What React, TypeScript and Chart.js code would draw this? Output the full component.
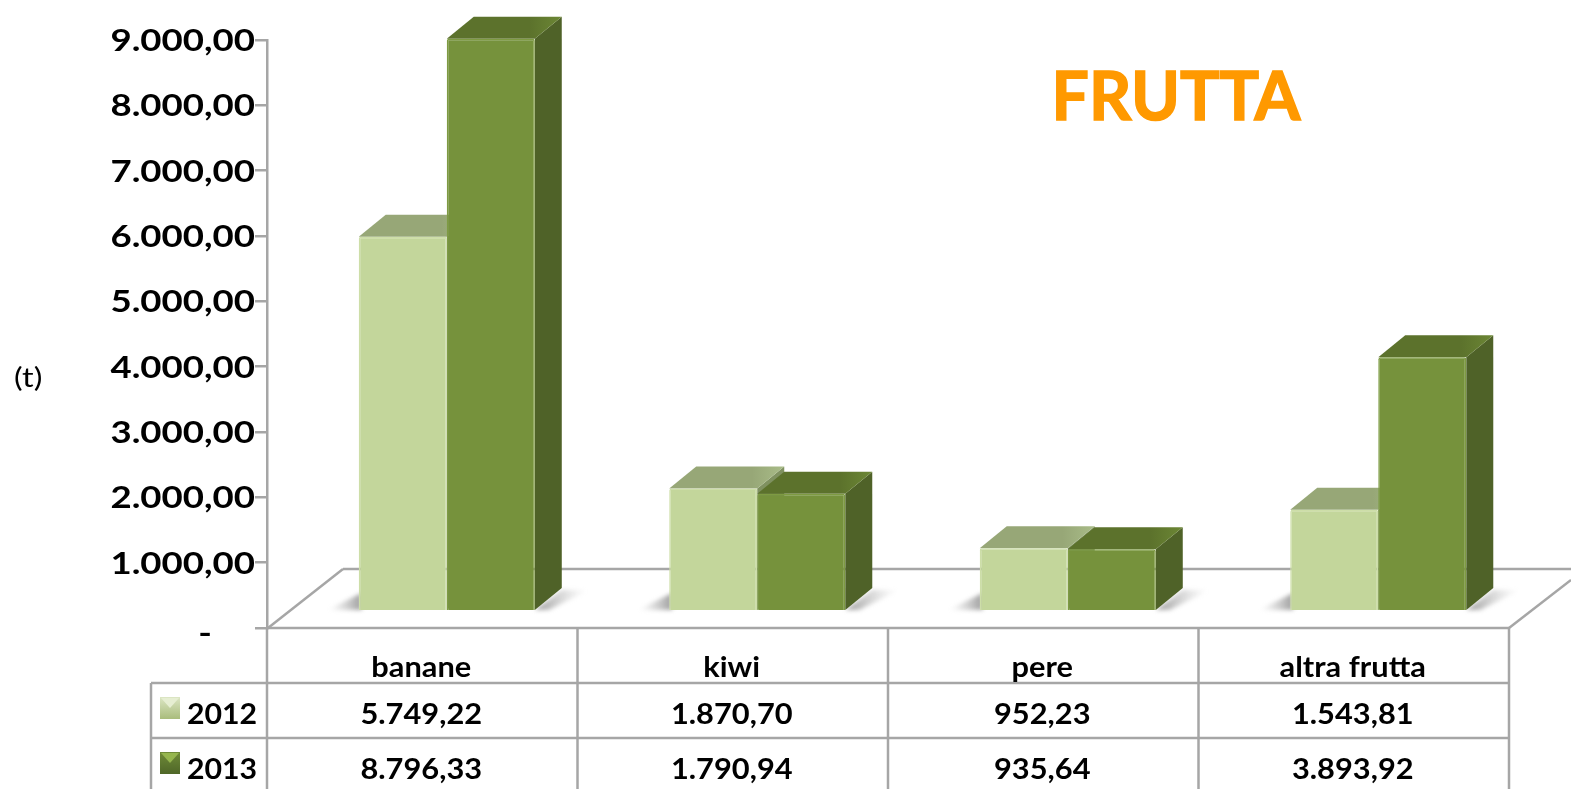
import React, { useEffect, useRef } from "react";
import { Chart, registerables } from "chart.js";

Chart.register(...registerables);

const categories = ["banane", "kiwi", "pere", "altra frutta"];
const years = ["2012", "2013"];
const values2012 = [5749.22, 1870.7, 952.23, 1543.81];
const values2013 = [8796.33, 1790.94, 935.64, 3893.92];
const yTicks = [0, 1000, 2000, 3000, 4000, 5000, 6000, 7000, 8000, 9000];

const FONT = "Lato, Carlito, sans-serif";
const LINE = "#A6A6A6";
const DX = 24.5;
const DY = -18;
const DEPTH_X = 27;
const DEPTH_Y = 22;

const palette = [
  { front: "#C3D69B", edge: "#CDDEA8", side: "#7F9160", top: "#97A777", topEnd: "#A9BC88", keyA: "#DCE6C4", keyB: "#A9BC7C", keyC: "#E6EED2" },
  { front: "#76923C", edge: "#7E9B42", side: "#4F6228", top: "#5C722C", topEnd: "#6C8735", keyA: "#6F8A38", keyB: "#4F6728", keyC: "#95B54E" },
];

const fmt = (v: number) =>
  v.toLocaleString("de-DE", { minimumFractionDigits: 2, maximumFractionDigits: 2 });

const poly = (ctx: CanvasRenderingContext2D, pts: number[][]) => {
  ctx.beginPath();
  pts.forEach((p, i) => (i ? ctx.lineTo(p[0], p[1]) : ctx.moveTo(p[0], p[1])));
  ctx.closePath();
};

const seg = (ctx: CanvasRenderingContext2D, x1: number, y1: number, x2: number, y2: number) => {
  ctx.beginPath();
  ctx.moveTo(x1, y1);
  ctx.lineTo(x2, y2);
  ctx.stroke();
};

// Text widened horizontally about its anchor point (the source lettering is stretched).
const wideText = (
  ctx: CanvasRenderingContext2D,
  text: string,
  x: number,
  y: number,
  sx: number,
  align: CanvasTextAlign,
) => {
  ctx.save();
  ctx.translate(x, y);
  ctx.scale(sx, 1);
  ctx.textAlign = align;
  ctx.textBaseline = "middle";
  ctx.fillText(text, 0, 0);
  ctx.restore();
};

const scene = {
  id: "scene",
  beforeDatasetsDraw(chart: any) {
    const ctx: CanvasRenderingContext2D = chart.ctx;
    const { left, right, bottom } = chart.chartArea;
    const W = chart.width;
    ctx.save();
    // floor
    ctx.strokeStyle = LINE;
    ctx.lineWidth = 2.5;
    const backY = bottom - 59;
    seg(ctx, left + 76, backY, W, backY);
    seg(ctx, left + 1, bottom, left + 76, backY);
    seg(ctx, right, bottom, W, bottom - 48);

    // ground shadows and 3D faces, from the bars' own elements
    const m0 = chart.getDatasetMeta(0).data;
    const m1 = chart.getDatasetMeta(1).data;
    ctx.filter = "blur(2px)";
    m0.forEach((b: any) => {
      const l = b.x - b.width / 2 + DX;
      const base = b.base + DY;
      const g = ctx.createLinearGradient(l - 30, 0, l, 0);
      g.addColorStop(0, "rgba(170,170,170,0)");
      g.addColorStop(1, "rgba(130,130,130,0.7)");
      ctx.fillStyle = g;
      poly(ctx, [[l + 3, base - 17], [l + 3, base], [l - 32, base]]);
      ctx.fill();
    });
    m1.forEach((b: any) => {
      const r = b.x + b.width / 2 + DX;
      const base = b.base + DY;
      const g = ctx.createLinearGradient(r + 5, 0, r + 52, 0);
      g.addColorStop(0, "rgba(130,130,130,0.7)");
      g.addColorStop(1, "rgba(180,180,180,0)");
      ctx.fillStyle = g;
      poly(ctx, [[r, base], [r + DEPTH_X, base - DEPTH_Y + 2], [r + 54, base - DEPTH_Y + 2], [r + 14, base]]);
      ctx.fill();
    });
    ctx.filter = "blur(0.7px)";
    [m0, m1].forEach((bars: any[], d: number) => {
      const c = palette[d];
      bars.forEach((b: any) => {
        const l = b.x - b.width / 2 + DX;
        const r = b.x + b.width / 2 + DX;
        const t = b.y + DY;
        const base = b.base + DY;
        ctx.fillStyle = c.side;
        poly(ctx, [[r, t], [r + DEPTH_X, t - DEPTH_Y], [r + DEPTH_X, base - DEPTH_Y], [r, base]]);
        ctx.fill();
        const g = ctx.createLinearGradient(l, 0, r + DEPTH_X, 0);
        g.addColorStop(0, c.top);
        g.addColorStop(0.72, c.top);
        g.addColorStop(1, c.topEnd);
        ctx.fillStyle = g;
        poly(ctx, [[l, t], [l + DEPTH_X, t - DEPTH_Y], [r + DEPTH_X, t - DEPTH_Y], [r, t]]);
        ctx.fill();
      });
    });
    ctx.restore();
  },
  beforeDatasetDraw(chart: any) {
    chart.ctx.save();
    chart.ctx.translate(DX, DY);
  },
  afterDatasetDraw(chart: any) {
    chart.ctx.restore();
  },
  afterDraw(chart: any) {
    const ctx: CanvasRenderingContext2D = chart.ctx;
    const { left, right, bottom } = chart.chartArea;
    const H = chart.height;
    const rows = [bottom + 55, bottom + 110];
    const rowText = [715, 770];
    const keyTop = [697, 752];
    const yScale = chart.scales.y;
    const xScale = chart.scales.x;
    const colW = (right - left) / categories.length;
    ctx.save();

    // data table
    ctx.strokeStyle = LINE;
    ctx.lineWidth = 2.5;
    seg(ctx, left, bottom, right, bottom);
    rows.forEach((y) => seg(ctx, 151, y, right, y));
    seg(ctx, 151, rows[0], 151, H);
    for (let i = 0; i <= categories.length; i++) {
      const x = left + i * colW;
      seg(ctx, x, bottom, x, H);
    }

    ctx.fillStyle = "#000";

    // value axis labels, placed by the axis
    ctx.font = `bold 31px ${FONT}`;
    yTicks.forEach((v) => {
      const y = yScale.getPixelForValue(v);
      if (v === 0) wideText(ctx, "-", 205, y + 6, 1.18, "center");
      else wideText(ctx, fmt(v), 255, y + 1, 1.18, "right");
    });

    // category labels, placed by the axis, and table values
    ctx.font = `bold 28px ${FONT}`;
    categories.forEach((c, i) => {
      wideText(ctx, c, xScale.getPixelForValue(i) - 1, 668, 1.1, "center");
    });
    [values2012, values2013].forEach((vals, r) => {
      vals.forEach((v, i) => wideText(ctx, fmt(v), xScale.getPixelForValue(i) - 1, rowText[r], 1.1, "center"));
    });

    // legend keys and year labels
    years.forEach((yr, r) => {
      const c = palette[r];
      const kx = 160;
      const ky = keyTop[r];
      const g = ctx.createLinearGradient(0, ky, 0, ky + 22);
      g.addColorStop(0, c.keyA);
      g.addColorStop(1, c.keyB);
      ctx.fillStyle = g;
      ctx.fillRect(kx, ky, 20, 22);
      ctx.fillStyle = c.keyC;
      poly(ctx, [[kx + 1, ky + 1], [kx + 19, ky + 1], [kx + 10, ky + 11]]);
      ctx.fill();
      ctx.fillStyle = "#000";
      wideText(ctx, yr, 187, rowText[r], 1.08, "left");
    });

    // unit
    ctx.font = `27px ${FONT}`;
    wideText(ctx, "(t)", 14, 378, 1.2, "left");

    // heading
    ctx.fillStyle = "#FF9900";
    ctx.strokeStyle = "#FF9900";
    ctx.lineWidth = 1.5;
    ctx.font = `bold 66px ${FONT}`;
    ctx.textAlign = "center";
    ctx.textBaseline = "middle";
    ctx.fillText("FRUTTA", 1176, 99);
    ctx.strokeText("FRUTTA", 1176, 99);
    ctx.restore();
  },
};

export default function App() {
  const ref = useRef<HTMLCanvasElement>(null);

  useEffect(() => {
    document.body.style.margin = "0";
    document.body.style.background = "#fff";
    const chart = new Chart(ref.current as HTMLCanvasElement, {
      type: "bar",
      data: {
        labels: categories,
        datasets: [values2012, values2013].map((data, i) => ({
          label: years[i],
          data,
          yAxisID: "y2",
          backgroundColor: palette[i].front,
          borderColor: palette[i].edge,
          borderWidth: 1.5,
          borderRadius: 2,
          categoryPercentage: 0.567,
          barPercentage: 1,
          clip: false,
        })),
      },
      options: {
        responsive: false,
        animation: false,
        layout: { padding: { left: 0, right: 62, top: 40, bottom: 0 } },
        plugins: { legend: { display: false }, tooltip: { enabled: false }, title: { display: false } },
        scales: {
          x: {
            afterFit: (s: any) => {
              s.height = 161;
            },
            grid: { display: false },
            border: { display: false },
            ticks: { display: false },
          },
          y: {
            min: 0,
            max: 9000,
            afterFit: (s: any) => {
              s.width = 267;
            },
            afterBuildTicks: (s: any) => {
              s.ticks = yTicks.map((value) => ({ value }));
            },
            grid: { drawOnChartArea: false, drawTicks: true, tickLength: 12, color: LINE, lineWidth: 2.5 },
            border: { display: true, color: LINE, width: 2.5 },
            ticks: { display: false },
          },
          y2: { display: false, min: 0, max: 9056 },
        },
      } as any,
      plugins: [scene as any],
    });
    return () => chart.destroy();
  }, []);

  return (
    <canvas
      ref={ref}
      width={1571}
      height={789}
      style={{ display: "block", width: 1571, height: 789 }}
    />
  );
}
